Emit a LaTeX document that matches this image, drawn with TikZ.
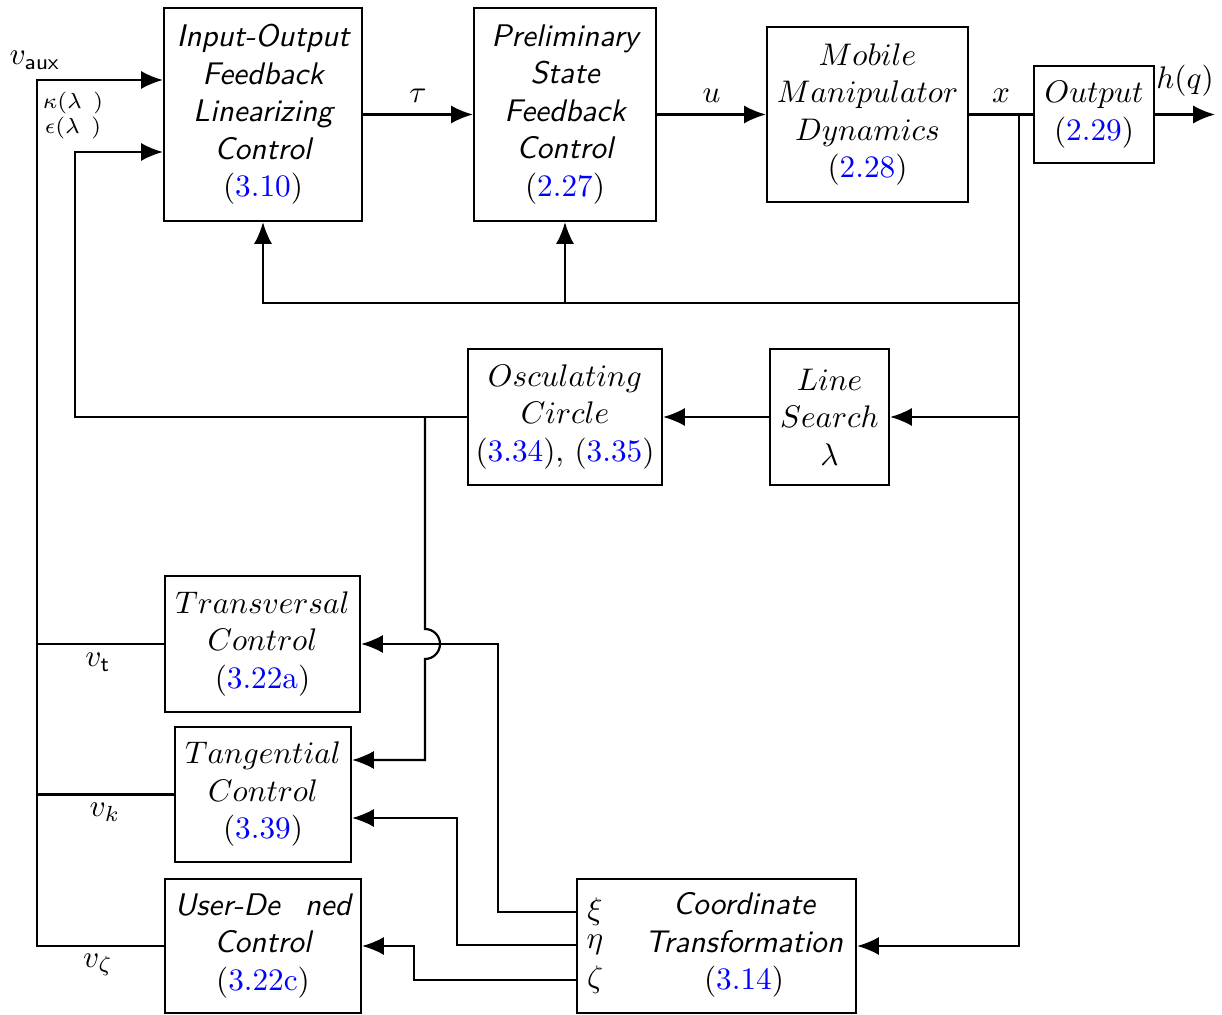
\documentclass[tikz,border=0pt]{standalone}
\usetikzlibrary{arrows.meta}
\newcommand{\dpx}{0.32pt}
\newcommand{\eqn}[1]{{\normalfont(\textcolor{blue}{#1})}}
\tikzset{
  blk/.style={draw, line width=0.7pt, align=center, inner sep=1pt},
  sansblk/.style={blk, font=\sffamily\slshape},
  sig/.style={line width=0.7pt},
  >={Latex[length=7pt,width=5.8pt]}
}

\begin{document}
\begin{tikzpicture}[x=\dpx,y=-\dpx]
  \useasboundingbox (0,0) rectangle (1222,1015);

  % Forward path blocks
  \node[sansblk, minimum width=198*\dpx, minimum height=213*\dpx] (io) at (263,114.5)
    {Input-Output\\Feedback\\Linearizing\\Control\\\eqn{3.10}};
  \node[sansblk, minimum width=182*\dpx, minimum height=213*\dpx] (psf) at (565,114.5)
    {Preliminary\\State\\Feedback\\Control\\\eqn{2.27}};
  \node[blk, minimum width=201*\dpx, minimum height=175*\dpx] (mmd) at (867.5,114.5)
    {$Mobile$\\$Manipulator$\\$Dynamics$\\\eqn{2.28}};
  \node[blk, minimum width=120*\dpx, minimum height=97*\dpx] (out) at (1094,114.5)
    {$Output$\\\eqn{2.29}};

  % Path planning blocks
  \node[blk, minimum width=194*\dpx, minimum height=136*\dpx] (osc) at (565,417)
    {$Osculating$\\$Circle$\\\eqn{3.34}, \eqn{3.35}};
  \node[blk, minimum width=119*\dpx, minimum height=136*\dpx] (ls) at (829.5,417)
    {$Line$\\$Search$\\$\lambda$};

  % Auxiliary controllers
  \node[blk, minimum width=195*\dpx, minimum height=136*\dpx] (tr) at (262.5,644)
    {$Transversal$\\$Control$\\\eqn{3.22a}};
  \node[blk, minimum width=176*\dpx, minimum height=135*\dpx] (tan) at (263,794.5)
    {$Tangential$\\$Control$\\\eqn{3.39}};
  \node[sansblk, minimum width=196*\dpx, minimum height=134*\dpx] (ud) at (263,946)
    {User-De\hspace{0.8em}ned\\Control\\\eqn{3.22c}};

  % Coordinate transformation
  \node[blk, minimum width=279*\dpx, minimum height=134*\dpx] (ct) at (716.5,946) {};
  \node[align=center, font=\sffamily\slshape] (ctlbl) at (744,945)
    {Coordinate\\Transformation\\\eqn{3.14}};
  \node (xi) at (595,912) {$\xi$};
  \node (eta) at (595,945) {$\eta$};
  \node (zeta) at (595,980) {$\zeta$};

  % Junction points
  \coordinate (xj) at (1019,114.5); % state pick-off
  \coordinate (fb) at (1019,303);   % feedback to upper blocks
  \coordinate (hq) at (1215,114.5); % output end
  \coordinate (va) at (37,80);      % auxiliary input bus
  \coordinate (kp) at (75,152);     % curvature input
  \coordinate (br) at (425,417);    % branch to tangential control
  \coordinate (tk) at (425,760);

  % Forward path
  \draw[sig,->] (io) -- node[above] {$\tau$} (psf);
  \draw[sig,->] (psf) -- node[above] {$u$} (mmd);
  \draw[sig] (mmd) -- node[above] {$x$} (out);
  \draw[sig,->] (out) -- node[above, yshift=2pt] {$h(q)$} (hq);

  % State feedback
  \draw[sig,->] (xj) -- (xj |- ct.east) -- (ct.east);
  \draw[sig,->] (fb) -- (io.south |- fb) -- (io.south);
  \draw[sig,->] (psf.south |- fb) -- (psf.south);
  \draw[sig,->] (xj |- ls.east) -- (ls.east);
  \draw[sig,->] (ls) -- (osc);

  % Curvature back to the controller
  \draw[sig,->] (osc.west) -- (kp |- osc.west) -- (kp) -- (kp -| io.west);
  \draw[sig,->] (br) -- (425,629) arc[start angle=90, end angle=-90, radius=4.8pt]
    -- (tk) -- (tk -| tan.east);

  % Auxiliary input bus
  \draw[sig,->] (ud.west) -- (va |- ud.west) -- (va) -- (va -| io.west);
  \draw[sig] (va |- tr.west) -- (tr.west);
  \draw[sig] (va |- tan.west) -- (tan.west);

  % Transformed coordinates
  \draw[sig,->] (ct.west |- xi) -- (498,912) -- (498,644) -- (tr.east);
  \draw[sig,->] (ct.west |- eta) -- (457,945) -- (457,818) -- (tan.east |- 457,818);
  \draw[sig,->] (ct.west |- zeta) -- (414,980) -- (414,946) -- (ud.east);

  % Labels
  \node (vaux) at (35,60) {$v_{\mathsf{aux}}$};
  \node[font=\scriptsize] (kap) at (73,103) {$\kappa(\lambda\;\,)$};
  \node[font=\scriptsize] (eps) at (73,128) {$\epsilon(\lambda\;\,)$};
  \node (vt) at (98,662) {$v_{\mathsf{t}}$};
  \node (vk) at (105,812) {$v_k$};
  \node (vz) at (98,965) {$v_\zeta$};
\end{tikzpicture}
\end{document}
